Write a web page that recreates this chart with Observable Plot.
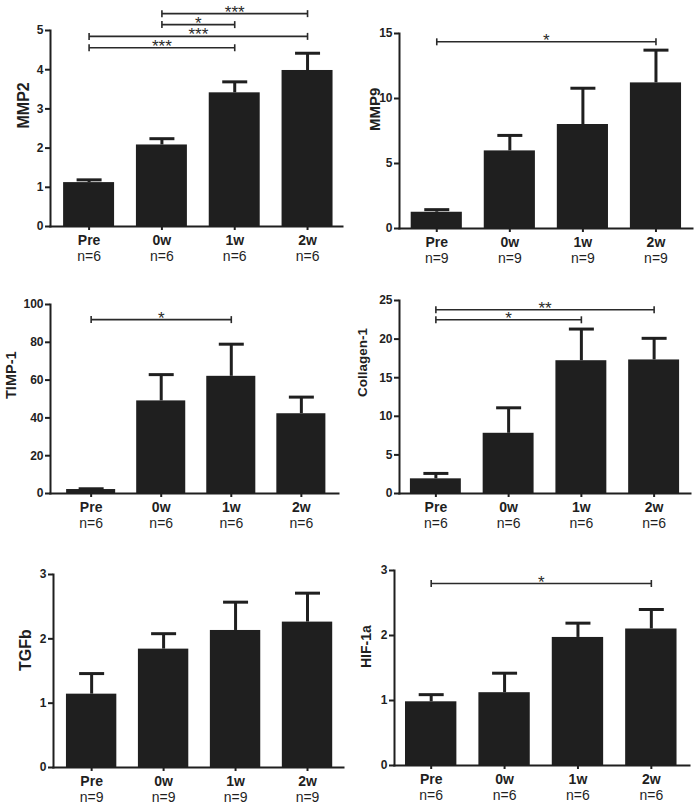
<!DOCTYPE html>
<html><head><meta charset="utf-8">
<script src="https://cdn.jsdelivr.net/npm/d3@7"></script>
<script src="https://cdn.jsdelivr.net/npm/@observablehq/plot@0.6"></script>
<style>
html,body{margin:0;padding:0;background:#fff;}
#grid{display:grid;grid-template-columns:349px 349px;grid-template-rows:270px 270px 271px;width:698px;height:811px;}
#grid > div{width:349px;overflow:visible;}
svg{display:block;overflow:visible;}
</style></head><body><div id="grid"></div>
<script>
const categories = ["Pre", "0w", "1w", "2w"];

const mmp2Mean = [1.12, 2.08, 3.41, 3.98];
const mmp2Sem = [0.07, 0.16, 0.28, 0.44];
const mmp2N = [6, 6, 6, 6];
const mmp2Ticks = [0, 1, 2, 3, 4, 5];
const mmp2Brackets = [
  {from: "0w", to: "2w", y: 5.43, label: "***"},
  {from: "0w", to: "1w", y: 5.15, label: "*"},
  {from: "Pre", to: "2w", y: 4.85, label: "***"},
  {from: "Pre", to: "1w", y: 4.56, label: "***"}
];

const mmp9Mean = [1.25, 5.97, 8.0, 11.2];
const mmp9Sem = [0.2, 1.19, 2.79, 2.52];
const mmp9N = [9, 9, 9, 9];
const mmp9Ticks = [0, 5, 10, 15];
const mmp9Brackets = [{from: "Pre", to: "2w", y: 14.36, label: "*"}];

const timpMean = [2.1, 49, 62, 42.2];
const timpSem = [0.4, 13.9, 17, 8.8];
const timpN = [6, 6, 6, 6];
const timpTicks = [0, 20, 40, 60, 80, 100];
const timpBrackets = [{from: "Pre", to: "1w", y: 92, label: "*"}];

const colMean = [1.9, 7.8, 17.2, 17.3];
const colSem = [0.7, 3.3, 4.1, 2.8];
const colN = [6, 6, 6, 6];
const colTicks = [0, 5, 10, 15, 20, 25];
const colBrackets = [
  {from: "Pre", to: "2w", y: 23.8, label: "**"},
  {from: "Pre", to: "1w", y: 22.5, label: "*"}
];

const tgfMean = [1.14, 1.84, 2.13, 2.26];
const tgfSem = [0.32, 0.24, 0.44, 0.45];
const tgfN = [9, 9, 9, 9];
const tgfTicks = [0, 1, 2, 3];
const tgfBrackets = [];

const hifMean = [0.98, 1.12, 1.97, 2.1];
const hifSem = [0.11, 0.30, 0.22, 0.30];
const hifN = [6, 6, 6, 6];
const hifTicks = [0, 1, 2, 3];
const hifBrackets = [{from: "Pre", to: "2w", y: 2.8, label: "*"}];

const INK = "#1f1f1f";
const idx = c => categories.indexOf(c);

function panel(cfg) {
  const data = categories.map((c, i) => ({i, cat: c, mean: cfg.mean[i], top: cfg.mean[i] + cfg.sem[i]}));
  const capSym = {draw(ctx) { ctx.moveTo(-12.5, 0); ctx.lineTo(12.5, 0); }};
  const endSym = {draw(ctx) { ctx.moveTo(0, -3.5); ctx.lineTo(0, 3.5); }};
  const ends = cfg.brackets.flatMap(b => [{x: idx(b.from), y: b.y}, {x: idx(b.to), y: b.y}]);
  const tickIdx = categories.map((_, i) => i);
  const yMax = cfg.ticks[cfg.ticks.length - 1];
  return Plot.plot({
    width: 349, height: cfg.height,
    marginLeft: cfg.ml, marginRight: cfg.mr, marginTop: cfg.mt, marginBottom: cfg.mb,
    style: {fontFamily: "'Liberation Sans', Arial, sans-serif", background: "#fff", color: INK, overflow: "visible"},
    x: {domain: cfg.xd, axis: null},
    y: {domain: [0, yMax], axis: null},
    marks: [
      Plot.rectY(data, {x1: d => d.i - 0.35, x2: d => d.i + 0.35, y1: 0, y2: "mean", fill: INK}),
      Plot.ruleX(data, {x: "i", y1: "mean", y2: "top", stroke: INK, strokeWidth: 3}),
      Plot.dot(data, {x: "i", y: "top", symbol: capSym, stroke: INK, strokeWidth: 3, fill: "none"}),
      Plot.link(cfg.brackets, {x1: b => idx(b.from), x2: b => idx(b.to), y1: "y", y2: "y", stroke: "#2a2a2a", strokeWidth: 1.6}),
      Plot.dot(ends, {x: "x", y: "y", symbol: endSym, stroke: "#2a2a2a", strokeWidth: 1.6}),
      Plot.text(cfg.brackets, {x: b => (idx(b.from) + idx(b.to)) / 2, y: "y", text: "label", lineAnchor: "bottom", dy: 4, fontSize: 17, fill: "#2a2a2a"}),
      Plot.frame({anchor: "left", stroke: INK, strokeWidth: 2}),
      Plot.frame({anchor: "bottom", stroke: INK, strokeWidth: 2}),
      Plot.axisY(cfg.ticks, {tickSize: 5, tickPadding: 2, fontSize: 12, fontWeight: "bold", strokeWidth: 2, label: null, tickFormat: d => String(d)}),
      Plot.axisX(tickIdx, {tickSize: 4, tickPadding: 4.5, fontSize: 14, fontWeight: "bold", strokeWidth: 2, label: null, tickFormat: i => categories[i]}),
      Plot.axisX(tickIdx, {tickSize: 0, tickPadding: 25, fontSize: 14, fontWeight: "normal", label: null, tickFormat: i => "n=" + cfg.n[i]}),
      Plot.text([cfg.label], {frameAnchor: "left", rotate: -90, dx: -cfg.lo, lineAnchor: "top", fontSize: cfg.lf, fontWeight: "bold", fill: INK})
    ]
  });
}

const panels = [
  {label: "MMP2", mean: mmp2Mean, sem: mmp2Sem, n: mmp2N, ticks: mmp2Ticks, brackets: mmp2Brackets, height: 270, ml: 50, mr: 7, mt: 30, mb: 44, xd: [-0.53, 3.48], lo: 33, lf: 16},
  {label: "MMP9", mean: mmp9Mean, sem: mmp9Sem, n: mmp9N, ticks: mmp9Ticks, brackets: mmp9Brackets, height: 270, ml: 50, mr: 6, mt: 33, mb: 42, xd: [-0.51, 3.5], lo: 30, lf: 15},
  {label: "TIMP-1", mean: timpMean, sem: timpSem, n: timpN, ticks: timpTicks, brackets: timpBrackets, height: 270, ml: 50, mr: 11, mt: 34, mb: 47, xd: [-0.58, 3.53], lo: 45, lf: 14.5},
  {label: "Collagen-1", mean: colMean, sem: colSem, n: colN, ticks: colTicks, brackets: colBrackets, height: 270, ml: 50, mr: 8, mt: 30, mb: 47, xd: [-0.5, 3.5], lo: 42, lf: 13.5},
  {label: "TGFb", mean: tgfMean, sem: tgfSem, n: tgfN, ticks: tgfTicks, brackets: tgfBrackets, height: 271, ml: 53, mr: 6, mt: 34, mb: 44, xd: [-0.53, 3.5], lo: 34, lf: 16},
  {label: "HIF-1a", mean: hifMean, sem: hifSem, n: hifN, ticks: hifTicks, brackets: hifBrackets, height: 271, ml: 45, mr: 9, mt: 30, mb: 46, xd: [-0.5, 3.52], lo: 33, lf: 14}
];

const grid = document.getElementById("grid");
for (const cfg of panels) {
  const div = document.createElement("div");
  div.appendChild(panel(cfg));
  grid.appendChild(div);
}
</script>
</body></html>
